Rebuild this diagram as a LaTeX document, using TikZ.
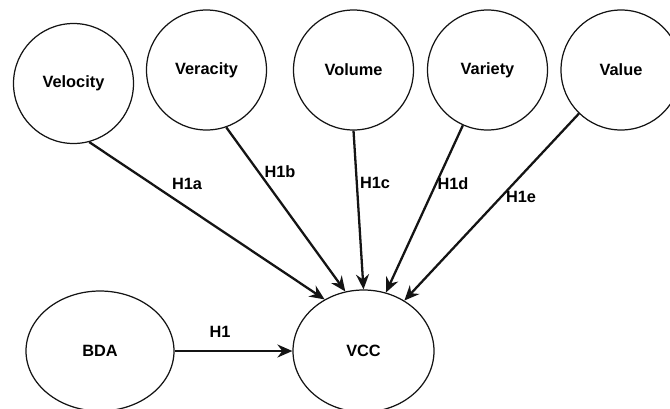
\documentclass[tikz,border=0pt]{standalone}
\usepackage{fontspec}
\setmainfont{Liberation Sans}
\usepackage{tikz}
\usetikzlibrary{shapes.geometric, arrows.meta, positioning}
\definecolor{linecolor}{RGB}{20,20,20}

\begin{document}
\begin{tikzpicture}[
    construct/.style={draw=linecolor, line width=0.7pt, circle, minimum size=2.4cm, inner sep=0pt, font=\fontsize{9.3}{11}\selectfont\bfseries, align=center},
    outcome/.style={draw=linecolor, line width=0.7pt, ellipse, inner sep=0pt, font=\fontsize{9.3}{11}\selectfont\bfseries, align=center},
    hypo/.style={font=\fontsize{9.3}{11}\selectfont\bfseries, inner sep=1pt},
    arrow/.style={-{Stealth[length=3mm, width=2.6mm, inset=1mm]}, line width=1.3pt, linecolor}
]
    \useasboundingbox (0,0) rectangle (13.4,-8.16);

    % Big data dimensions
    \node[construct] (velocity) at (1.47,-1.67) {Velocity};
    \node[construct] (veracity) at (4.13,-1.40) {Veracity};
    \node[construct] (volume) at (7.07,-1.40) {Volume};
    \node[construct] (variety) at (9.75,-1.40) {Variety};
    \node[construct] (value) at (12.42,-1.40) {Value};

    % Bottom row
    \node[outcome, minimum width=2.96cm, minimum height=2.4cm] (bda) at (2.00,-7.02) {BDA};
    \node[outcome, minimum width=2.82cm, minimum height=2.44cm] (vcc) at (7.27,-7.02) {VCC};

    % Hypotheses
    \draw[arrow] (velocity.-75.6) -- (vcc.127);
    \draw[arrow] (veracity.-71) -- (vcc.107);
    \draw[arrow] (volume.south) -- (vcc.north);
    \draw[arrow] (variety.-114.5) -- (vcc.69);
    \draw[arrow] (value.-134) -- (vcc.51.5);
    \draw[arrow] (bda) -- (vcc);

    % Labels
    \node[hypo] (h1a) at (3.74,-3.68) {H1a};
    \node[hypo] (h1b) at (5.60,-3.44) {H1b};
    \node[hypo] (h1c) at (7.50,-3.66) {H1c};
    \node[hypo] (h1d) at (9.06,-3.68) {H1d};
    \node[hypo] (h1e) at (10.42,-3.94) {H1e};
    \node[hypo] (h1) at (4.40,-6.64) {H1};
\end{tikzpicture}
\end{document}
